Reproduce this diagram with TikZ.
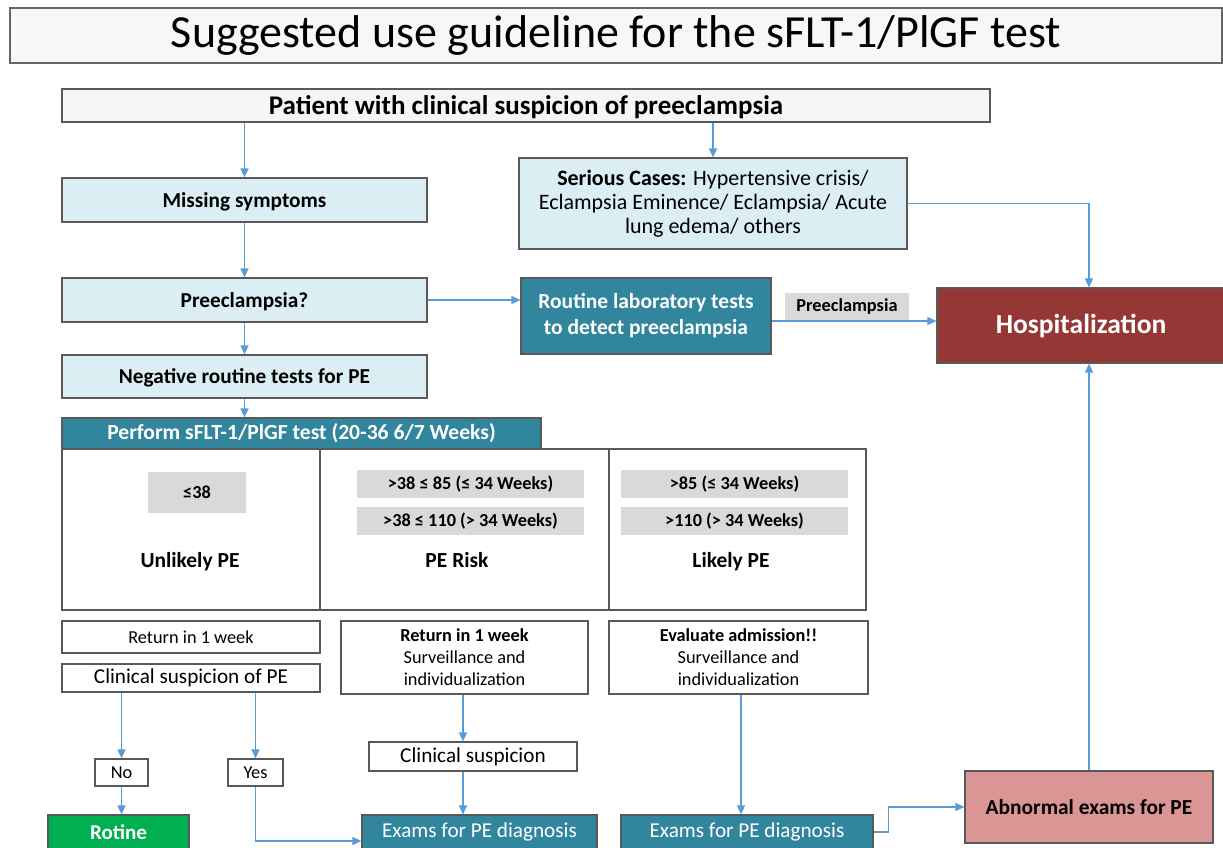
\documentclass[tikz,border=0pt]{standalone}
\usepackage{fontspec}
\setmainfont{Carlito}
\usetikzlibrary{arrows.meta,positioning}
\definecolor{framegray}{HTML}{595959}
\definecolor{lightblue}{HTML}{DAEEF3}
\definecolor{tealbox}{HTML}{31859C}
\definecolor{darkred}{HTML}{953735}
\definecolor{pinkbox}{HTML}{D99694}
\definecolor{greenbox}{HTML}{00B050}
\definecolor{labelgray}{HTML}{D9D9D9}
\definecolor{arrowblue}{HTML}{5B9BD5}
\newcommand{\fs}[2][1.2]{\fontsize{#2}{#1\dimexpr#2pt\relax}\selectfont}

\begin{document}
\begin{tikzpicture}[
x=1pt, y=-1pt,
every node/.style={draw=framegray, line width=1.2pt, inner sep=0pt, align=center},
bluebox/.style={fill=lightblue, text depth=0pt, font=\fs{21.3}\bfseries},
whitebox/.style={fill=white, font=\fs{18.3}},
tealfill/.style={fill=tealbox, text=white, font=\fs{21.2}},
rangebox/.style={draw=none, fill=labelgray, font=\fs{18.3}\bfseries},
plain/.style={draw=none, anchor=base, font=\fs{21.5}\bfseries},
flow/.style={arrowblue, line width=1.4pt, -{Triangle[length=9pt,width=8pt]}}
]
\useasboundingbox (0,0) rectangle (1223,847);
\clip (0,0) rectangle (1223,847);

\node[fill=gray!6, draw=gray!80!black, minimum width=1212pt, minimum height=55pt, font=\fs{46}]
  (title) at (616,35.5) {Suggested use guideline for the sFLT-1/PlGF test};

\node[fill=gray!8, text depth=0pt, minimum width=928pt, minimum height=33pt, font=\fs{27}\bfseries]
  (patient) at (526,105.5) {Patient with clinical suspicion of preeclampsia};

\node[bluebox, minimum width=365pt, minimum height=44pt] (miss) at (244.5,200) {Missing symptoms};
\node[fill=lightblue, minimum width=388pt, minimum height=91pt, font={\fs[1.1]{22}}] (serious) at (713,203.5)
  {\textbf{Serious Cases:} Hypertensive crisis/\\Eclampsia Eminence/ Eclampsia/ Acute\\lung edema/ others};
\node[bluebox, minimum width=365pt, minimum height=44pt] (preq) at (244.5,300) {Preeclampsia?};
\node[tealfill, minimum width=250pt, minimum height=76pt, font=\fs{21.5}\bfseries] (routine) at (646,316)
  {Routine laboratory tests\\to detect preeclampsia};
\node[rangebox, minimum width=124pt, minimum height=28pt] (pelabel) at (847,307) {Preeclampsia};
\node[fill=darkred, text=white, minimum width=288pt, minimum height=75pt, font=\fs{27.5}\bfseries]
  (hosp) at (1081,325.5) {Hospitalization};
\node[bluebox, minimum width=365pt, minimum height=43pt] (neg) at (244.5,376.5) {Negative routine tests for PE};

% test table
\node[tealfill, minimum width=479pt, minimum height=31pt, font=\fs{21.6}\bfseries] (perform) at (301.5,433.5)
  {Perform sFLT-1/PlGF test (20-36 6/7 Weeks)};
\node[minimum width=258pt, minimum height=161pt] (cellA) at (191,529.5) {};
\node[minimum width=289pt, minimum height=161pt] (cellB) at (464.5,529.5) {};
\node[minimum width=257pt, minimum height=161pt] (cellC) at (737.5,529.5) {};
\node[rangebox, minimum width=98pt, minimum height=41pt] (low) at (197,492.5) {≤38};
\node[rangebox, minimum width=227pt, minimum height=28pt] (midA) at (470.5,484) {>38 ≤ 85 (≤ 34 Weeks)};
\node[rangebox, minimum width=227pt, minimum height=28pt] (midB) at (470.5,521) {>38 ≤ 110 (> 34 Weeks)};
\node[rangebox, minimum width=227pt, minimum height=28pt] (highA) at (734.5,484) {>85 (≤ 34 Weeks)};
\node[rangebox, minimum width=227pt, minimum height=28pt] (highB) at (734.5,521) {>110 (> 34 Weeks)};
\node[plain] (unlikely) at (190,567) {Unlikely PE};
\node[plain] (risk) at (457,567) {PE Risk};
\node[plain] (likely) at (731,567) {Likely PE};

% follow-up
\node[whitebox, minimum width=258pt, minimum height=32pt] (retA) at (191,637) {Return in 1 week};
\node[whitebox, minimum width=258pt, minimum height=28pt, font=\fs{21.2}] (clin) at (191,678) {Clinical suspicion of PE};
\node[whitebox, minimum width=247pt, minimum height=73pt] (retB) at (464.5,657.5)
  {\textbf{Return in 1 week}\\Surveillance and\\individualization};
\node[whitebox, minimum width=259pt, minimum height=73pt] (eval) at (738.5,657.5)
  {\textbf{Evaluate admission!!}\\Surveillance and\\individualization};
\node[whitebox, minimum width=53pt, minimum height=27pt] (no) at (121.5,772.5) {No};
\node[whitebox, minimum width=55pt, minimum height=27pt] (yes) at (255.5,772.5) {Yes};
\node[whitebox, minimum width=208pt, minimum height=29pt, font=\fs{21.2}] (clinsus) at (473,756.5) {Clinical suspicion};
\node[fill=greenbox, text=white, minimum width=141pt, minimum height=34pt, font=\fs{21}\bfseries]
  (rotine) at (118.5,832) {Rotine};
\node[tealfill, minimum width=235pt, minimum height=34pt] (examA) at (479.5,832) {Exams for PE diagnosis};
\node[tealfill, minimum width=252pt, minimum height=34pt] (examB) at (747,832) {Exams for PE diagnosis};
\node[fill=pinkbox, minimum width=248pt, minimum height=72pt, font=\fs{21.4}\bfseries]
  (abn) at (1089,807) {Abnormal exams for PE};

% arrows
\draw[flow] (patient.south -| miss.north) -- (miss.north);
\draw[flow] (patient.south -| serious.north) -- (serious.north);
\draw[flow] (miss) -- (preq);
\draw[flow] (preq.east) -- (preq.east -| routine.west);
\draw[flow] ([yshift=-5pt]routine.east) -- ([yshift=-5pt]routine.east -| hosp.west);
\draw[flow] (serious.east) -| (abn.north |- hosp.north);
\draw[flow] (abn.north) -- (abn.north |- hosp.south);
\draw[flow] (preq) -- (neg);
\draw[flow] (neg.south) -- (neg.south |- perform.north);
\draw[flow] (no.north |- clin.south) -- (no.north);
\draw[flow] (yes.north |- clin.south) -- (yes.north);
\draw[flow] (no) -- (no.south |- rotine.north);
\draw[flow] (yes.south) |- ([yshift=-9pt]examA.west);
\draw[flow] ([xshift=-1.5pt]retB.south) -- ([xshift=-1.5pt]retB.south |- clinsus.north);
\draw[flow] ([xshift=-1.5pt]retB.south |- clinsus.south) -- ([xshift=-1.5pt]retB.south |- examA.north);
\draw[flow] ([xshift=2.5pt]eval.south) -- ([xshift=2.5pt]eval.south |- examB.north);
\draw[flow] (examB.east) -- ++(15,0) |- (abn.west);
\end{tikzpicture}
\end{document}
